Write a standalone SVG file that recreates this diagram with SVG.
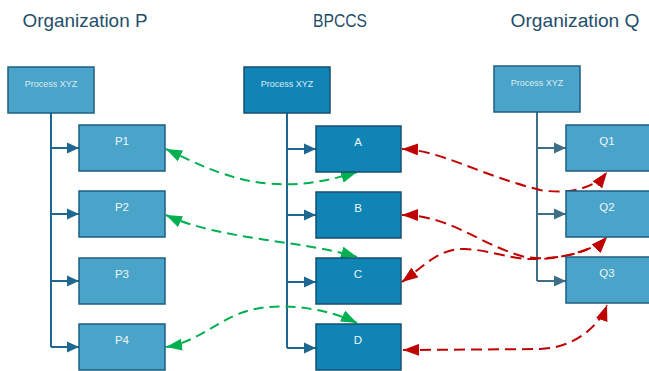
<svg xmlns="http://www.w3.org/2000/svg" width="649" height="371" viewBox="0 0 649 371">
  <defs>
    <style>
      .title { font-family: "Liberation Sans", Arial, sans-serif; font-size: 19px; fill: #1f4e6b; text-anchor: middle; }
      .box-light { fill: #4aa3c8; stroke: #1e5f82; stroke-width: 1.5; }
      .box-dark { fill: #1184b6; stroke: #174f6f; stroke-width: 1.5; }
      .proc { font-family: "Liberation Sans", Arial, sans-serif; font-size: 9px; fill: #dcedf6; text-anchor: middle; }
      .lbl { font-family: "Liberation Sans", Arial, sans-serif; font-size: 11.5px; fill: #eef7fb; text-anchor: middle; }
      .tree { fill: none; stroke: #1d6791; stroke-width: 2; }
      .tree-q { fill: none; stroke: #3d6f87; stroke-width: 2; }
      .link-g { fill: none; stroke: #00b050; stroke-width: 2; stroke-dasharray: 10 6; marker-start: url(#ag); marker-end: url(#ag); }
      .link-r { fill: none; stroke: #c00000; stroke-width: 2; stroke-dasharray: 11 6; marker-start: url(#ar); marker-end: url(#ar); }
    </style>
    <marker id="tb" markerUnits="userSpaceOnUse" markerWidth="12" markerHeight="12" refX="12" refY="6" orient="auto">
      <path d="M0,0.5 L12,6 L0,11.5 Z" fill="#1d6791"/>
    </marker>
    <marker id="tq" markerUnits="userSpaceOnUse" markerWidth="12" markerHeight="12" refX="12" refY="6" orient="auto">
      <path d="M0,0.5 L12,6 L0,11.5 Z" fill="#3d6f87"/>
    </marker>
    <marker id="ag" markerUnits="userSpaceOnUse" markerWidth="16" markerHeight="12" refX="16" refY="6" orient="auto-start-reverse">
      <path d="M0,0 L16,6 L0,12 Z" fill="#00b050"/>
    </marker>
    <marker id="ar" markerUnits="userSpaceOnUse" markerWidth="16" markerHeight="12" refX="16" refY="6" orient="auto-start-reverse">
      <path d="M0,0 L16,6 L0,12 Z" fill="#c00000"/>
    </marker>
  </defs>

  <rect width="649" height="371" fill="#ffffff"/>

  <!-- column headings -->
  <text class="title" x="85" y="27" textLength="125" lengthAdjust="spacingAndGlyphs">Organization P</text>
  <text class="title" x="340" y="27" textLength="54" lengthAdjust="spacingAndGlyphs">BPCCS</text>
  <text class="title" x="575" y="27" textLength="129" lengthAdjust="spacingAndGlyphs">Organization Q</text>

  <!-- connectors -->
  <g id="connectors">
    <!-- Organization P tree -->
    <path class="tree" d="M51,113 V347"/>
    <path class="tree" marker-end="url(#tb)" d="M51,148 H79"/>
    <path class="tree" marker-end="url(#tb)" d="M51,214 H79"/>
    <path class="tree" marker-end="url(#tb)" d="M51,281 H79"/>
    <path class="tree" marker-end="url(#tb)" d="M51,347 H79"/>
    <!-- BPCCS tree -->
    <path class="tree" d="M287,113 V348"/>
    <path class="tree" marker-end="url(#tb)" d="M287,149 H316"/>
    <path class="tree" marker-end="url(#tb)" d="M287,215 H316"/>
    <path class="tree" marker-end="url(#tb)" d="M287,282 H316"/>
    <path class="tree" marker-end="url(#tb)" d="M287,348 H316"/>
    <!-- Organization Q tree -->
    <path class="tree-q" d="M537,112 V281"/>
    <path class="tree-q" marker-end="url(#tq)" d="M537,148 H566"/>
    <path class="tree-q" marker-end="url(#tq)" d="M537,214 H566"/>
    <path class="tree-q" marker-end="url(#tq)" d="M537,281 H566"/>

    <!-- P to BPCCS mappings -->
    <path class="link-g" d="M166,149 C220,175 270,200 357,172"/>
    <path class="link-g" d="M166,215 C220,240 300,240 357,257"/>
    <path class="link-g" d="M166,347 C200,342 222,315 255,309 C290,302 330,310 357,323"/>

    <!-- Q to BPCCS mappings -->
    <path class="link-r" d="M402,149 C440,150 480,175 540,190 C570,195 595,188 607,172"/>
    <path class="link-r" d="M402,215 C450,215 480,245 525,257 C560,262 595,250 607,237"/>
    <path class="link-r" d="M402,282 C425,265 440,248 465,249 C490,250 510,259 530,259 C560,260 595,250 607,237"/>
    <path class="link-r" d="M403,350 L540,349 C575,348 600,325 607,305"/>
  </g>

  <!-- Organization P -->
  <g id="p-process"><rect class="box-light" x="8" y="67" width="86" height="46"/><text class="proc" x="51" y="87">Process XYZ</text></g>
  <g id="p1"><rect class="box-light" x="79" y="125" width="86" height="46"/><text class="lbl" x="122" y="145">P1</text></g>
  <g id="p2"><rect class="box-light" x="79" y="191" width="86" height="46"/><text class="lbl" x="122" y="211">P2</text></g>
  <g id="p3"><rect class="box-light" x="79" y="258" width="86" height="46"/><text class="lbl" x="122" y="278">P3</text></g>
  <g id="p4"><rect class="box-light" x="79" y="324" width="86" height="46"/><text class="lbl" x="122" y="344">P4</text></g>

  <!-- BPCCS -->
  <g id="b-process"><rect class="box-dark" x="244" y="67" width="86" height="46"/><text class="proc" x="287" y="87">Process XYZ</text></g>
  <g id="a"><rect class="box-dark" x="316" y="126" width="85" height="46"/><text class="lbl" x="358" y="146">A</text></g>
  <g id="b"><rect class="box-dark" x="316" y="192" width="85" height="46"/><text class="lbl" x="358" y="212">B</text></g>
  <g id="c"><rect class="box-dark" x="316" y="258" width="85" height="46"/><text class="lbl" x="358" y="278">C</text></g>
  <g id="d"><rect class="box-dark" x="316" y="324" width="85" height="46"/><text class="lbl" x="358" y="344">D</text></g>

  <!-- Organization Q -->
  <g id="q-process"><rect class="box-light" x="494" y="66" width="86" height="46"/><text class="proc" x="537" y="86">Process XYZ</text></g>
  <g id="q1"><rect class="box-light" x="566" y="125" width="86" height="46"/><text class="lbl" x="607" y="145">Q1</text></g>
  <g id="q2"><rect class="box-light" x="566" y="191" width="86" height="46"/><text class="lbl" x="607" y="211">Q2</text></g>
  <g id="q3"><rect class="box-light" x="566" y="257" width="86" height="46"/><text class="lbl" x="607" y="277">Q3</text></g>
</svg>
